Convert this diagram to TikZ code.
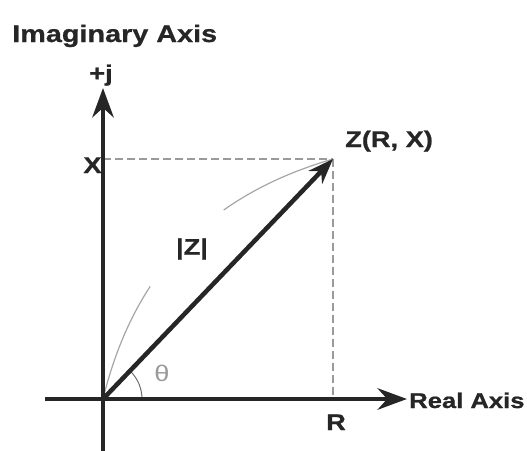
\documentclass[tikz,border=0pt]{standalone}
\usepackage{fontspec}
\newfontfamily\lblfont[FakeStretch=1.2, BoldFeatures={FakeBold=0.8}]{Liberation Sans}
\usetikzlibrary{arrows.meta, positioning}
\definecolor{inkgray}{HTML}{262626}
\definecolor{dashgray}{HTML}{9A9A9A}
\definecolor{arcgray}{HTML}{A6A6A6}
\tikzstyle{axisline} = [line width=3.6pt, draw=inkgray, -{Stealth[length=22pt, width=16pt]}]
\tikzstyle{vectorline} = [line width=3.4pt, draw=inkgray, -{Stealth[length=19pt, width=14pt]}]
\tikzstyle{guide} = [line width=1.1pt, draw=dashgray, dash pattern=on 6pt off 3pt]
\tikzstyle{txt} = [font=\lblfont\bfseries\fontsize{17}{20}\selectfont, text=inkgray, inner sep=0pt]

\begin{document}
\begin{tikzpicture}[x=0.75pt, y=-0.75pt]
    \useasboundingbox (0,0) rectangle (527,450);

    % points of the plane
    \coordinate (O) at (103,399);
    \coordinate (Z) at (333,159);
    \coordinate (Xpt) at (103,159);
    \coordinate (Rpt) at (333,399);
    \coordinate (jtop) at (103,88);
    \coordinate (jbot) at (103,452);
    \coordinate (rleft) at (45,399);
    \coordinate (rright) at (407,399);

    % dashed projections
    \draw [guide] (Xpt) -- (Z);
    \draw [guide] (Z) -- (Rpt);

    % faint arc and angle
    \draw [arcgray, line width=0.9pt, dash pattern=on 92pt off 80pt on 200pt] (O) to[bend left=30] (Z);
    \draw [inkgray!70, line width=0.7pt] ([shift={(39,0)}]O) arc[start angle=0, end angle=46, radius=29.25pt];

    % axes
    \draw [axisline] (rleft) -- (rright);
    \draw [axisline] (jbot) -- (jtop);
    \draw [vectorline] (O) -- (Z);

    \node (imag) [txt, anchor=base west, font=\lblfont\bfseries\fontsize{18}{21}\selectfont] at (12,42) {Imaginary Axis};
    \node (plusj) [txt, anchor=base] at (101,81) {+j};
    \node (real) [txt, anchor=base west, font=\lblfont\bfseries\fontsize{16}{19}\selectfont] at (409,408) {Real Axis};
    \node (xlab) [txt, anchor=base] at (92.5,173) {X};
    \node (rlab) [txt, anchor=base] at (336,430) {R};
    \node (zlab) [txt, anchor=base west] at (345,147) {Z(R, X)};
    \node (mag) [txt] at (192,249) {|Z|};
    \node (theta) [text=dashgray, font=\lblfont\fontsize{17}{20}\selectfont, inner sep=0pt] at (162,373) {θ};

\end{tikzpicture}
\end{document}
